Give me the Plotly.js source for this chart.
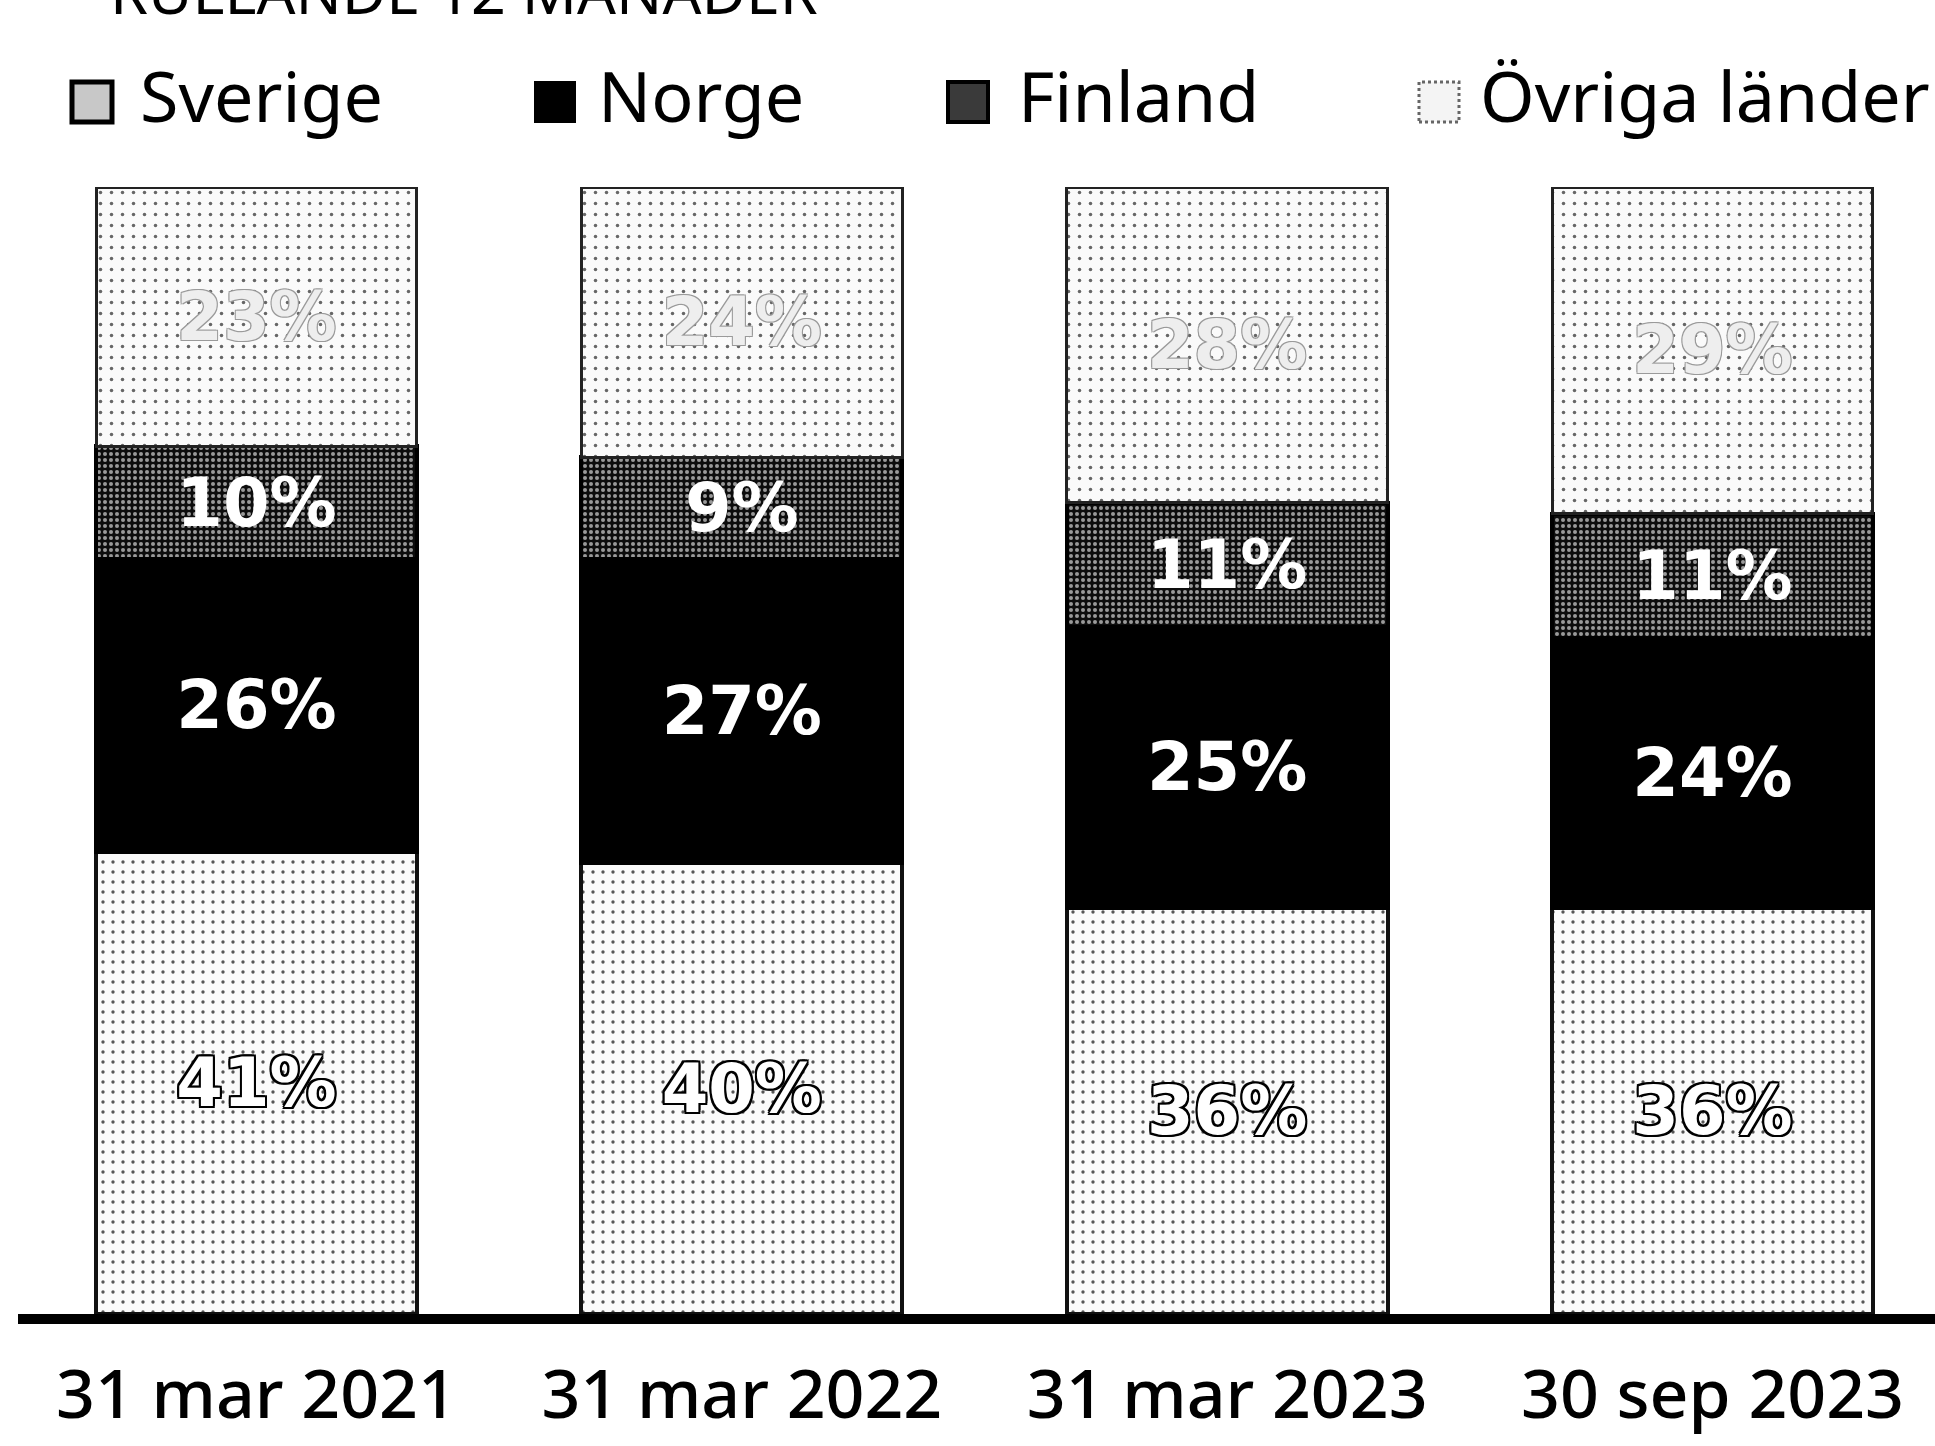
<!DOCTYPE html>
<html>
<head>
<meta charset="utf-8">
<script src="https://cdn.plot.ly/plotly-3.0.1.min.js"></script>
<style>
  html, body { margin: 0; padding: 0; background: #ffffff; }
  #chart { width: 1935px; height: 1446px; }
</style>
</head>
<body>
<div id="chart"></div>
<script>
// ---- data ----
const categories = ['31 mar 2021', '31 mar 2022', '31 mar 2023', '30 sep 2023'];
const seriesNames = ['Sverige', 'Norge', 'Finland', 'Övriga länder'];
const sverige = [41, 40, 36, 36];
const norge = [26, 27, 25, 24];
const finland = [10, 9, 11, 11];
const ovriga = [23, 24, 28, 29];
const titleText = 'RULLANDE 12 MÅNADER';

// ---- layout geometry (pixels) ----
const W = 1935, Hh = 1446;
const M = { l: 18, r: 0, t: 187, b: 132 };
const PW = W - M.l - M.r, PH = Hh - M.t - M.b;
const px2x = px => (px - M.l) / PW;
const py2y = py => (M.t + PH - py) / PH;

const pct = v => v.map(d => d + '%');
const barFont = 'DejaVu Sans, Verdana, sans-serif';
const textFont = 'Noto Sans, Open Sans, sans-serif';

const outlineDark = '-2px -2px 0 #000, 2px -2px 0 #000, -2px 2px 0 #000, 2px 2px 0 #000, 0 2px 0 #000, 0 -2px 0 #000, 2px 0 0 #000, -2px 0 0 #000';
const outlineLight = '-1px -1px 0 #9a9a9a, 1px -1px 0 #9a9a9a, -1px 1px 0 #9a9a9a, 1px 1px 0 #9a9a9a';

function barTrace(name, values, marker, textfont) {
  return {
    type: 'bar', name: name, x: categories, y: values,
    text: pct(values), textposition: 'inside', insidetextanchor: 'middle',
    textangle: 0, constraintext: 'none', cliponaxis: false,
    insidetextfont: textfont, width: 0.661, marker: marker,
    showlegend: false, hoverinfo: 'skip'
  };
}

const traces = [
  barTrace(seriesNames[0], sverige,
    { color: '#ffffff', line: { color: '#111', width: 4 },
      pattern: { shape: '.', fillmode: 'replace', bgcolor: '#fafafa', fgcolor: '#555', size: 10, solidity: 0.09 } },
    { family: barFont, size: 67, color: '#ffffff', weight: 'bold', shadow: outlineDark }),
  barTrace(seriesNames[1], norge,
    { color: '#000000', line: { color: '#000', width: 4 } },
    { family: barFont, size: 67, color: '#ffffff', weight: 'bold' }),
  barTrace(seriesNames[2], finland,
    { color: '#1a1a1a', line: { color: '#000', width: 4 },
      pattern: { shape: '.', fillmode: 'replace', bgcolor: '#0d0d0d', fgcolor: '#9a9a9a', size: 6, solidity: 0.35 } },
    { family: barFont, size: 67, color: '#ffffff', weight: 'bold' }),
  barTrace(seriesNames[3], ovriga,
    { color: '#ffffff', line: { color: '#222', width: 3 },
      pattern: { shape: '.', fillmode: 'replace', bgcolor: '#fafafa', fgcolor: '#666', size: 11, solidity: 0.08 } },
    { family: barFont, size: 67, color: '#eeeeee', weight: 'bold', shadow: outlineLight })
];

// ---- custom legend (large square swatches) ----
const legendMarkerX = [72, 535, 948, 1419];
const legendTextX = [138, 596, 1016, 1478];
const legendTop = 82, legendSize = 40, legendTextMid = 95;
const swatchStyles = [
  { fillcolor: '#c8c8c8', line: { color: '#000', width: 5 } },
  { fillcolor: '#000000', line: { color: '#000', width: 2 } },
  { fillcolor: '#3a3a3a', line: { color: '#000', width: 4 } },
  { fillcolor: '#f4f4f4', line: { color: '#666', width: 3, dash: 'dot' } }
];
const shapes = seriesNames.map((n, i) => Object.assign({
  type: 'rect', xref: 'paper', yref: 'paper', layer: 'above',
  x0: px2x(legendMarkerX[i]), x1: px2x(legendMarkerX[i] + legendSize),
  y0: py2y(legendTop + legendSize), y1: py2y(legendTop)
}, swatchStyles[i]));

const annotations = seriesNames.map((n, i) => ({
  text: n, xref: 'paper', yref: 'paper', showarrow: false,
  x: px2x(legendTextX[i]), y: py2y(legendTextMid), xanchor: 'left', yanchor: 'middle',
  font: { family: textFont, size: 70, color: '#000' }
}));
annotations.push({
  text: titleText, xref: 'paper', yref: 'paper', showarrow: false,
  x: px2x(108), y: py2y(-9), xanchor: 'left', yanchor: 'middle',
  font: { family: textFont, size: 61, color: '#000' }
});

const layout = {
  width: W, height: Hh,
  margin: M,
  paper_bgcolor: '#ffffff', plot_bgcolor: '#ffffff',
  barmode: 'stack',
  showlegend: false,
  font: { family: textFont, color: '#000' },
  xaxis: {
    type: 'category', range: [-0.4914, 3.4585],
    showline: true, linecolor: '#000', linewidth: 10,
    ticks: '', showgrid: false, zeroline: false,
    tickfont: { family: textFont, size: 68, color: '#000', weight: 500 },
    ticklabelstandoff: 12, fixedrange: true
  },
  yaxis: { range: [0, 100], visible: false, showgrid: false, zeroline: false, fixedrange: true },
  shapes: shapes,
  annotations: annotations
};

Plotly.newPlot('chart', traces, layout, { displayModeBar: false, staticPlot: true });
</script>
</body>
</html>
